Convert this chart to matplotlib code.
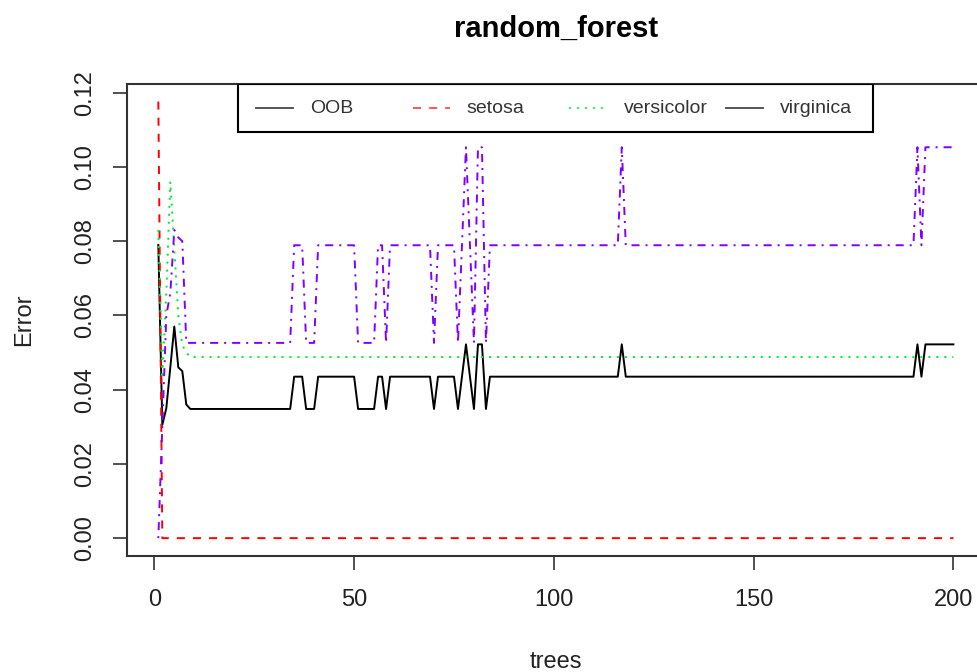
import numpy as np
import matplotlib
matplotlib.use("Agg")
import matplotlib.pyplot as plt
from matplotlib.patches import Rectangle

plt.rcParams['font.family'] = ['Liberation Sans', 'DejaVu Sans']
plt.rcParams['lines.scale_dashes'] = False

trees = np.arange(1, 201)

# error levels after the forest settles (counts out of 115 / 38 / 41)
oob_lo, oob_mid, oob_hi = 0.0348, 0.0435, 0.0522
vir_lo, vir_mid, vir_hi = 0.0526, 0.0789, 0.1053

# first 8 trees read point by point, then (value, run length) up to tree 200
oob_first = [0.079, 0.0305, 0.035, 0.046, 0.057, 0.046, 0.045, 0.036]
oob_runs = [(oob_lo, 26), (oob_mid, 3), (oob_lo, 3), (oob_mid, 10), (oob_lo, 5),
            (oob_mid, 2), (oob_lo, 1), (oob_mid, 11), (oob_lo, 1), (oob_mid, 5),
            (oob_lo, 1), (oob_mid, 1), (oob_hi, 1), (oob_mid, 1), (oob_lo, 1),
            (oob_hi, 2), (oob_lo, 1), (oob_mid, 33), (oob_hi, 1), (oob_mid, 73),
            (oob_hi, 1), (oob_mid, 1), (oob_hi, 8)]

setosa_first = [0.1176]
setosa_runs = [(0.0, 199)]

versicolor_first = [0.083, 0.043, 0.066, 0.096, 0.078, 0.060, 0.052, 0.050]
versicolor_runs = [(0.0488, 192)]

virginica_first = [0.0, 0.030, 0.060, 0.066, 0.083, 0.081, 0.080, 0.0526]
virginica_runs = [(vir_lo, 26), (vir_mid, 3), (vir_lo, 3), (vir_mid, 10), (vir_lo, 5),
                  (vir_mid, 2), (vir_lo, 1), (vir_mid, 11), (vir_lo, 1), (vir_mid, 5),
                  (vir_lo, 1), (vir_mid, 1), (vir_hi, 1), (vir_mid, 1), (vir_lo, 1),
                  (vir_hi, 2), (vir_lo, 1), (vir_mid, 33), (vir_hi, 1), (vir_mid, 73),
                  (vir_hi, 1), (vir_mid, 1), (vir_hi, 8)]


def expand(first, runs):
    vals = [v for v, n in runs]
    counts = [n for v, n in runs]
    return np.concatenate([first, np.repeat(vals, counts)])


oob = expand(oob_first, oob_runs)
setosa = expand(setosa_first, setosa_runs)
versicolor = expand(versicolor_first, versicolor_runs)
virginica = expand(virginica_first, virginica_runs)

names = ['OOB', 'setosa', 'versicolor', 'virginica']
colors = ['black', '#FF0000', '#00E83A', '#7F00FF']
dashes = [None, (5.8, 5.8), (1.45, 4.3), (1.45, 4.3, 5.8, 4.3)]

fig = plt.figure(figsize=(9.77, 6.72), dpi=100)
ax = fig.add_axes([0.1295, 0.1732, 0.8789, 0.7016])

for y, c, d in zip([oob, setosa, versicolor, virginica], colors, dashes):
    line, = ax.plot(trees, y, color=c, lw=1.4)
    if d is not None:
        line.set_dashes(d)

ax.set_xlim(-6.96, 207.96)
ax.set_ylim(-0.0047, 0.1223)
ax.set_xticks([0, 50, 100, 150, 200])
ax.set_yticks([0.0, 0.02, 0.04, 0.06, 0.08, 0.10, 0.12])
ax.set_yticklabels(['0.00', '0.02', '0.04', '0.06', '0.08', '0.10', '0.12'],
                   rotation=90, va='center')
ax.tick_params(direction='out', length=10, width=1.2, color='#333333',
               labelsize=17, labelcolor='#222222')
ax.tick_params(axis='x', pad=14)
ax.tick_params(axis='y', pad=12)
for s in ax.spines.values():
    s.set_color('#333333')
    s.set_linewidth(1.5)

ax.set_title('random_forest', fontsize=21, fontweight='bold', pad=34)
ax.set_xlabel('trees', fontsize=17, color='#222222')
ax.set_ylabel('Error', fontsize=17, color='#222222')
ax.xaxis.set_label_coords(0.5, -0.203)
ax.yaxis.set_label_coords(-0.106, 0.5)

# R style horizontal legend, equal width columns, pinned to the top
box = Rectangle((0.1298, 0.8984), 0.7396, 0.1016, transform=ax.transAxes,
                fill=False, edgecolor='black', lw=1.5, zorder=5)
ax.add_patch(box)
legend_colors = ['#555555', '#FF5555', '#33EE66', '#555555']
for i, (nm, c, d) in enumerate(zip(names, legend_colors, [None, dashes[1], dashes[2], None])):
    x0 = 0.1508 + i * 0.1825
    h, = ax.plot([x0, x0 + 0.0431], [0.949, 0.949], transform=ax.transAxes,
                 color=c, lw=1.4, clip_on=False)
    if d is not None:
        h.set_dashes(d)
    ax.text(x0 + 0.0629, 0.949, nm, transform=ax.transAxes, fontsize=14,
            va='center', ha='left', color='#333333')

fig.savefig('out.png', dpi=100)
